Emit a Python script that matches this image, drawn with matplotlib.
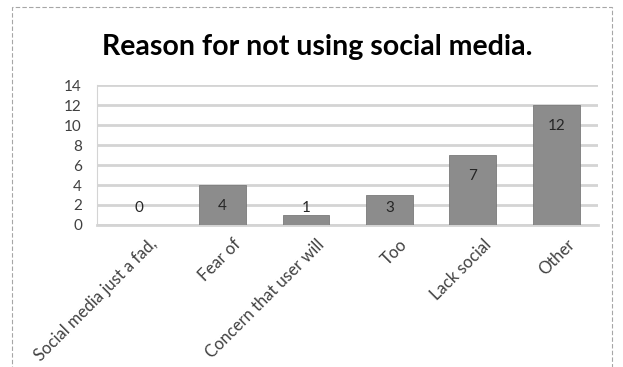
import numpy as np
import matplotlib.pyplot as plt
import matplotlib.transforms as mtransforms
from matplotlib.patches import Rectangle

categories = ['Social media just a fad,', 'Fear of', 'Concern that user will',
              'Too', 'Lack social', 'Other']
counts = [0, 4, 1, 3, 7, 12]
yticks = [0, 2, 4, 6, 8, 10, 12, 14]

plt.rcParams['font.family'] = ['Lato', 'DejaVu Sans']

fig = plt.figure(figsize=(6.23, 3.67), dpi=100)
ax = fig.add_axes([0.156, 0.387, 0.804, 0.381])

x = np.arange(len(categories))
bars = ax.bar(x, counts, width=0.56, color='#8c8c8c', edgecolor='#7a7a7a',
              linewidth=0.6, zorder=3)

# value labels sit inside the bar end, with a floor for short bars
for xi, v in zip(x, counts):
    ax.annotate(str(v), (xi, max(v, 3.8)), xytext=(0, -21),
                textcoords='offset pixels',
                ha='center', va='center', fontsize=11, color='#262626', zorder=4)

ax.set_xlim(-0.5, len(categories) - 0.5)
ax.set_ylim(0, 14)
ax.set_yticks(yticks)
ax.yaxis.grid(True, color='#d4d4d4', linewidth=2, zorder=0)
ax.set_axisbelow(True)
for s in ['top', 'right']:
    ax.spines[s].set_visible(False)
ax.spines['left'].set_color('#d4d4d4')
ax.spines['bottom'].set_color('#d4d4d4')
ax.spines['bottom'].set_linewidth(2)
ax.tick_params(axis='y', length=0, labelsize=11, colors='#404040', pad=11)
ax.tick_params(axis='x', length=0, labelsize=12, colors='#404040', pad=8)
ax.set_xticks(x)
ax.set_xticklabels(categories, rotation=45, ha='right', va='top',
                   rotation_mode='anchor')
shift = mtransforms.ScaledTranslation(10 / 100, 0, fig.dpi_scale_trans)
for lab in ax.get_xticklabels():
    lab.set_transform(lab.get_transform() + shift)

fig.text(0.509, 0.850, 'Reason for not using social media.', ha='center', va='baseline',
         fontsize=20.5, fontweight='bold', color='black')

# dashed frame around the chart
fig.patches.append(Rectangle((0.02, -0.02), 0.962, 1.0, transform=fig.transFigure,
                             fill=False, edgecolor='#a6a6a6', linestyle=(0, (4, 2)),
                             linewidth=0.8))

fig.savefig('out.png', dpi=100)
